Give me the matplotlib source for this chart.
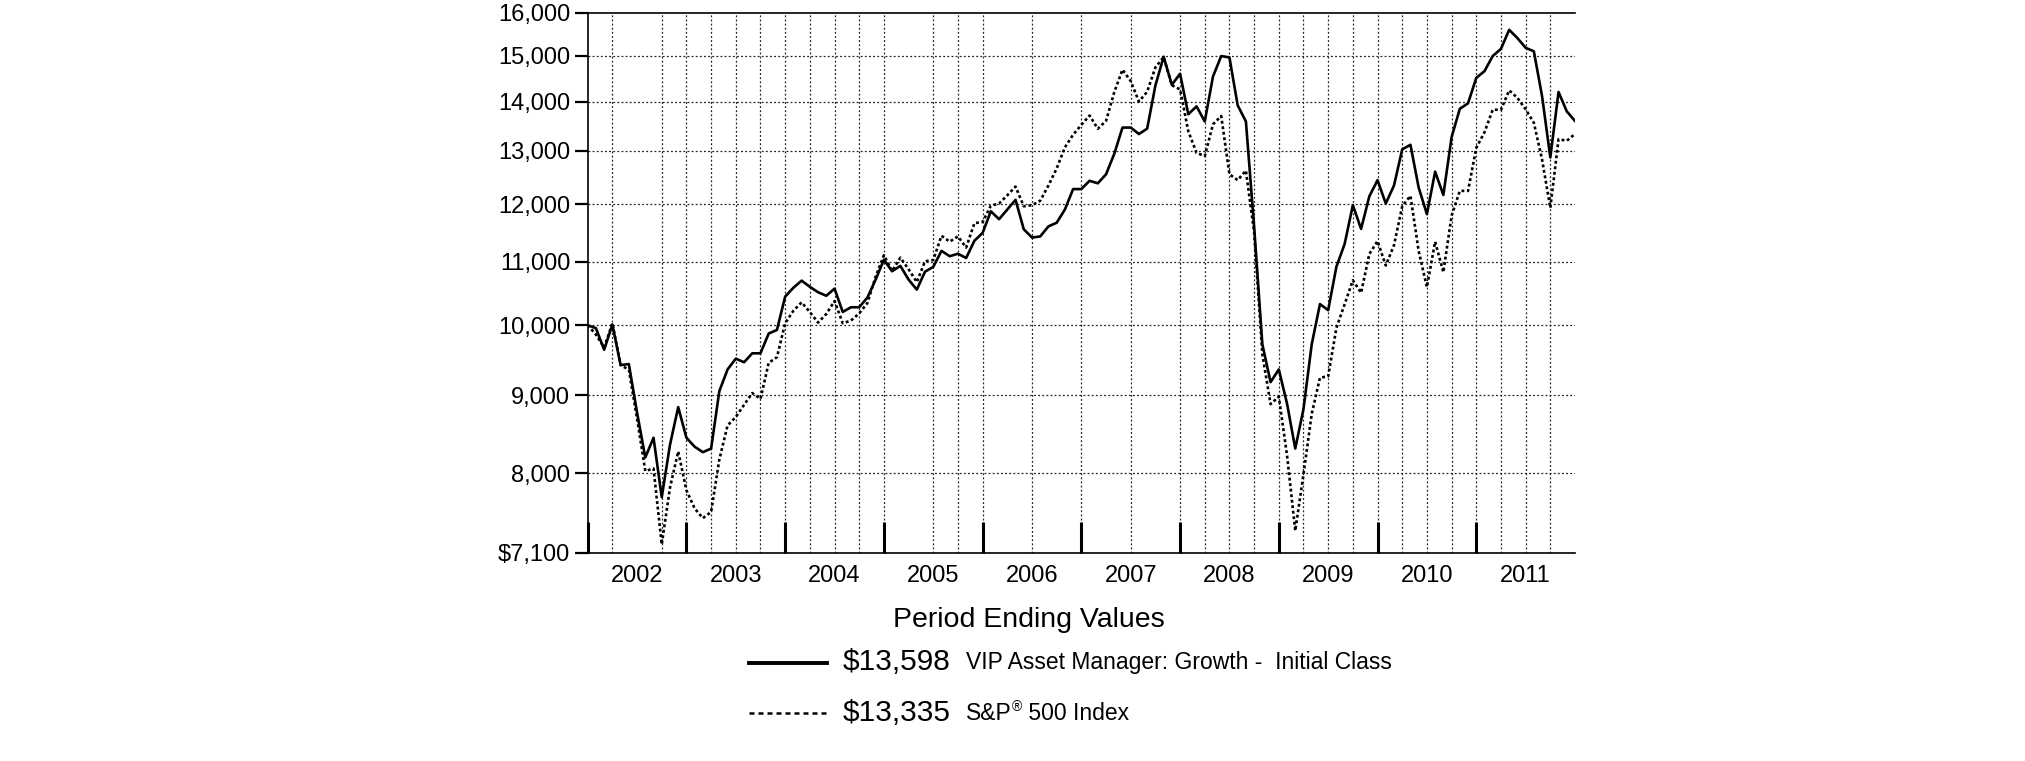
import matplotlib
matplotlib.use('Agg')
import matplotlib.pyplot as plt
from matplotlib.lines import Line2D
from matplotlib.ticker import FixedLocator, NullLocator
import numpy as np

plt.rcParams['font.family'] = ['Liberation Sans', 'DejaVu Sans']

# hypothetical $10,000 investment, month-end values Dec 2001 .. Dec 2011
fund = [10000, 9955, 9638, 10010, 9417, 9432, 8768, 8195, 8442, 7720, 8352, 8840,
        8442, 8329, 8261, 8306, 9056, 9356, 9509, 9458, 9586, 9586, 9876, 9929,
        10440, 10580, 10694, 10595, 10509, 10453, 10566, 10202, 10274, 10274, 10426, 10711,
        11035, 10846, 10934, 10711, 10550, 10839, 10917, 11184, 11094, 11136, 11064, 11355,
        11491, 11870, 11730, 11902, 12077, 11554, 11410, 11429, 11604, 11667, 11902, 12274,
        12274, 12428, 12381, 12549, 12942, 13464, 13464, 13334, 13442, 14344, 14978, 14359,
        14600, 13737, 13901, 13589, 14539, 14994, 14962, 13923, 13589, 11600, 9717, 9179,
        9356, 8887, 8306, 8816, 9717, 10323, 10229, 10920, 11300, 11980, 11560, 12140,
        12440, 12010, 12340, 13030, 13120, 12300, 11820, 12600, 12165, 13270, 13850, 13965,
        14510, 14657, 14994, 15157, 15598, 15405, 15182, 15100, 14113, 12873, 14205, 13796,
        13598]

sp500 = [10000, 9860, 9670, 10030, 9420, 9350, 8690, 8030, 8060, 7190, 7830, 8270,
         7800, 7590, 7480, 7550, 8170, 8600, 8710, 8870, 9030, 8950, 9450, 9530,
         10030, 10220, 10350, 10200, 10040, 10170, 10370, 10030, 10070, 10180, 10340, 10760,
         11110, 10850, 11070, 10880, 10670, 11010, 11030, 11440, 11340, 11430, 11240, 11660,
         11680, 11970, 12010, 12160, 12320, 11960, 11980, 12060, 12340, 12660, 13070, 13320,
         13520, 13710, 13440, 13600, 14200, 14690, 14440, 14000, 14210, 14740, 14970, 14350,
         14260, 13390, 12960, 12900, 13530, 13700, 12550, 12440, 12620, 11500, 9570, 8880,
         8980, 8220, 7340, 7990, 8750, 9240, 9260, 9960, 10320, 10700, 10500, 11130,
         11350, 10940, 11280, 11960, 12150, 11180, 10590, 11340, 10830, 11790, 12240, 12240,
         13060, 13370, 13830, 13830, 14240, 14080, 13840, 13560, 12830, 11930, 13230, 13200,
         13335]

months = np.arange(len(fund))

years = ['2002', '2003', '2004', '2005', '2006', '2007', '2008', '2009', '2010', '2011']
y_ticks = [7100, 8000, 9000, 10000, 11000, 12000, 13000, 14000, 15000, 16000]
y_labels = ['$7,100', '8,000', '9,000', '10,000', '11,000', '12,000', '13,000',
            '14,000', '15,000', '16,000']

fund_end = '$13,598'
fund_name = 'VIP Asset Manager: Growth -  Initial Class'
sp_end = '$13,335'

# vertical dotted grid lines (months after Dec 2001), as drawn in the original
grid_months = [3, 9, 12, 15, 18, 21, 24, 27, 30, 33, 36, 42, 45, 48, 54, 60, 66,
               72, 75, 78, 81, 84, 87, 90, 93, 96, 99, 102, 105, 108, 111, 114, 117]

W, H = 2025, 761
fig = plt.figure(figsize=(W / 100, H / 100), dpi=100)
ax = fig.add_axes([587.7 / W, 1 - 552.8 / H, (1575 - 587.7) / W, (552.8 - 12.9) / H])

grid_style = dict(color='#222222', linewidth=0.9, linestyle=(0, (1.5, 1.8)), zorder=1)

ax.set_yscale('log')
ax.set_xlim(0, 120)
ax.set_ylim(7100, 16000)

for m in grid_months:
    ax.axvline(m, **grid_style)
for v in y_ticks[1:-1]:
    ax.axhline(v, **grid_style)

ax.plot(months, fund, color='black', linewidth=1.9, zorder=3)
ax.plot(months, sp500, color='black', linewidth=1.9, linestyle=(0, (1.1, 1.0)), zorder=2)

# y axis
ax.yaxis.set_major_locator(FixedLocator(y_ticks))
ax.yaxis.set_minor_locator(NullLocator())
ax.set_yticklabels(y_labels)
ax.tick_params(axis='y', which='major', direction='out', length=9.5, width=1.6,
               labelsize=17, pad=3)

# x axis: thick year marks at the boundaries, labels in the middle of each year
ax.xaxis.set_major_locator(FixedLocator(np.arange(0, 120, 12)))
ax.xaxis.set_minor_locator(FixedLocator(np.arange(6, 120, 12)))
ax.xaxis.set_major_formatter(plt.NullFormatter())
ax.set_xticklabels(years, minor=True)
ax.tick_params(axis='x', which='major', direction='in', length=22, width=2.2)
ax.tick_params(axis='x', which='minor', length=0, labelsize=17, pad=9)

for s in ['left', 'bottom', 'top']:
    ax.spines[s].set_linewidth(1.2)
ax.spines['right'].set_visible(False)

""" legend block under the chart """
def fx(px):
    return px / W

def fy(py):
    return 1 - py / H

fig.text(fx(1029), fy(620), 'Period Ending Values', fontsize=20.5, ha='center', va='center')

fig.add_artist(Line2D([fx(749), fx(827)], [fy(662.5), fy(662.5)], color='black', linewidth=2.8))
fig.text(fx(843), fy(662.5), fund_end, fontsize=21.5, ha='left', va='center')
fig.text(fx(966), fy(662.5), fund_name, fontsize=16.5, ha='left', va='center')

fig.add_artist(Line2D([fx(749), fx(827)], [fy(713), fy(713)], color='black', linewidth=1.8,
                      linestyle=(0, (2.0, 1.6))))
fig.text(fx(843), fy(713), sp_end, fontsize=21.5, ha='left', va='center')
t1 = fig.text(fx(966), fy(713), 'S&P', fontsize=16.5, ha='left', va='center')
reg = ax.annotate('\u00ae', xy=(1, 0.45), xycoords=t1, fontsize=10, ha='left', va='bottom',
                  annotation_clip=False)
# x follows the ® mark, y stays on the S&P line
ax.annotate(' 500 Index', xy=(1, 0.5), xycoords=(reg, t1), fontsize=16.5,
            ha='left', va='center', annotation_clip=False)

fig.savefig('out.png', dpi=100)
